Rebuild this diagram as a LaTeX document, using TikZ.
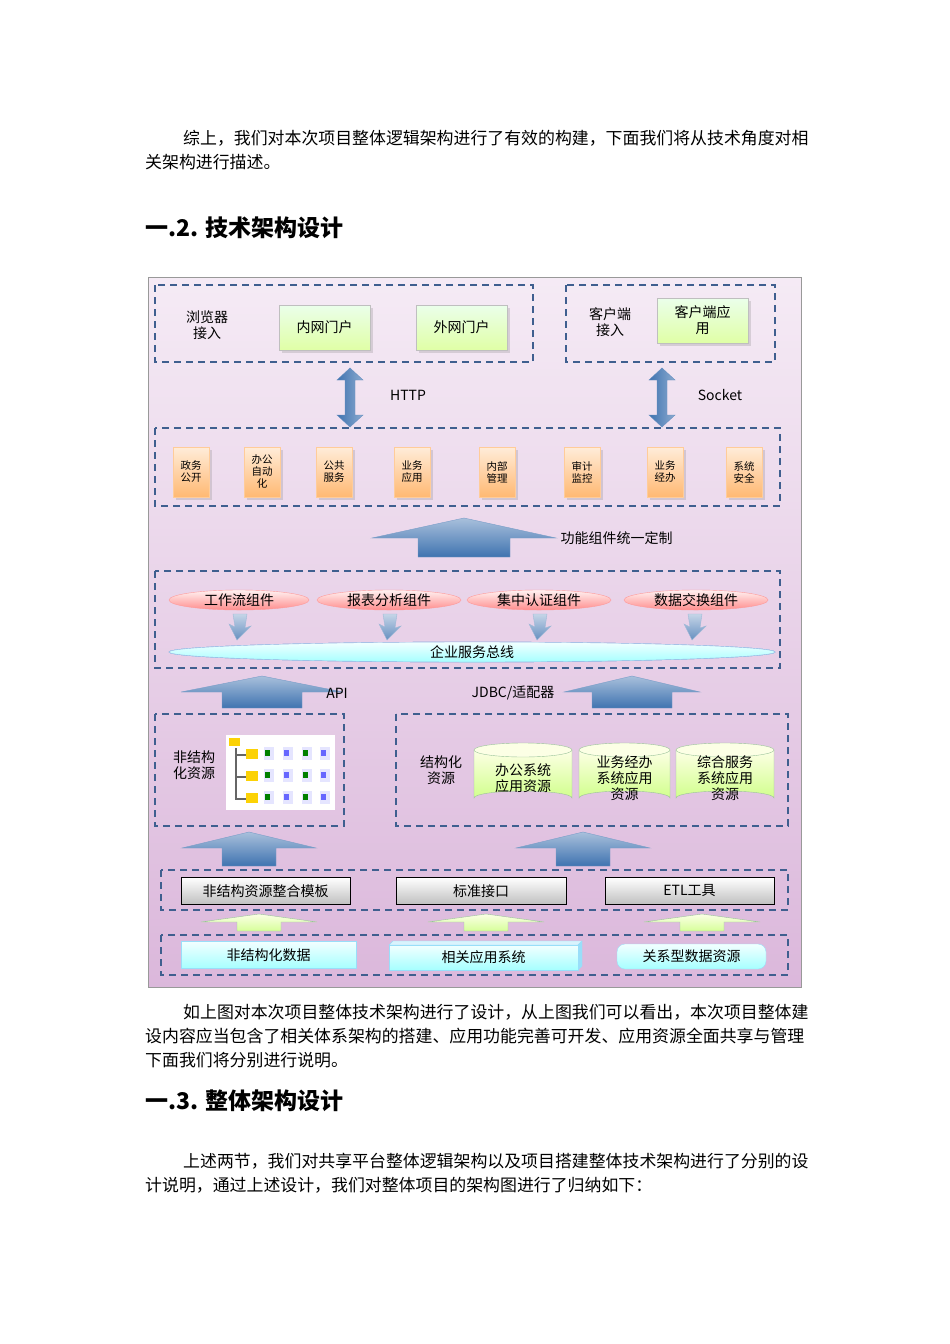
\documentclass[tikz,border=0pt]{standalone}
\usepackage{fontspec}
\setmainfont{Noto Sans CJK SC}
\setsansfont{Noto Sans CJK SC}
\usetikzlibrary{shapes.geometric,shadows}
\definecolor{dashc}{HTML}{3F5F8F}
\definecolor{arrb}{HTML}{3F73B0}
\tikzset{
 dbox/.style={draw=dashc,line width=2.2pt,dash pattern=on 7pt off 5pt},
 gbox/.style={draw=black!25,top color=green!8!white,bottom color=green!35!yellow!35!white,drop shadow={opacity=0.25}},
 obox/.style={draw=orange!40,top color=orange!15,bottom color=orange!55,drop shadow={opacity=0.25}},
 rell/.style={ellipse,draw=red!40,top color=red!5,bottom color=red!45,inner sep=0pt,font=\fontsize{14}{14}\selectfont},
 grey/.style={draw=black,top color=white,bottom color=black!25,font=\fontsize{14}{14}\selectfont},
 cbox/.style={draw=cyan!40,top color=cyan!5,bottom color=cyan!35,font=\fontsize{14}{14}\selectfont},
 lbl/.style={font=\fontsize{14}{16}\selectfont,align=center},
 sm/.style={font=\fontsize{10.5}{12}\selectfont,align=center},
 para/.style={anchor=west,inner sep=0pt,font=\fontsize{16.9}{17}\selectfont},
 head/.style={anchor=west,inner sep=0pt,font=\fontsize{23}{24}\bfseries\selectfont},
}
% cx, ytop, ybot, headhalf, shafthalf, headbottom-y
\newcommand\bigup[6]{\path[top color=arrb!45,bottom color=arrb,draw=arrb!70!white]
 (#1,#2)--(#1+#4,#6)--(#1+#5,#6)--(#1+#5,#3)--(#1-#5,#3)--(#1-#5,#6)--(#1-#4,#6)--cycle;}
\newcommand\greenup[6]{\path[top color=green!15!yellow!10,bottom color=green!40!yellow!40,draw=green!40!black!40]
 (#1,#2)--(#1+#4,#6)--(#1+#5,#6)--(#1+#5,#3)--(#1-#5,#3)--(#1-#5,#6)--(#1-#4,#6)--cycle;}
\newcommand\dblarr[3]{\path[left color=arrb,right color=arrb!60,draw=arrb!80]
 (#1,#2)--(#1+13,#2+12)--(#1+5,#2+12)--(#1+5,#3-12)--(#1+13,#3-12)--(#1,#3)--(#1-13,#3-12)--(#1-5,#3-12)--(#1-5,#2+12)--(#1-13,#2+12)--cycle;}
\newcommand\smdown[2]{\path[top color=arrb!30,bottom color=arrb!80,draw=arrb!50]
 (#1-6,#2)--(#1+8,#2)--(#1+6,#2+14)--(#1+12,#2+12)--(#1-2,#2+26)--(#1-10,#2+10)--(#1-4,#2+13)--cycle;}
\begin{document}
\begin{tikzpicture}[x=1pt,y=-1pt]
\useasboundingbox (0,0) rectangle (950,1344);
\fill[white] (0,0) rectangle (950,1344);
% text
\node[para] (p1) at (183,138) {综上，我们对本次项目整体逻辑架构进行了有效的构建，下面我们将从技术角度对相};
\node[para] (p1b) at (145,162) {关架构进行描述。};
\node[head] (h2) at (145,228) {一.2. 技术架构设计};
\node[para] (p2) at (183,1012) {如上图对本次项目整体技术架构进行了设计，从上图我们可以看出，本次项目整体建};
\node[para] (p2b) at (145,1036) {设内容应当包含了相关体系架构的搭建、应用功能完善可开发、应用资源全面共享与管理};
\node[para] (p2c) at (145,1060) {下面我们将分别进行说明。};
\node[head] (h3) at (145,1101) {一.3. 整体架构设计};
\node[para] (p3) at (183,1161) {上述两节，我们对共享平台整体逻辑架构以及项目搭建整体技术架构进行了分别的设};
\node[para] (p3b) at (145,1185) {计说明，通过上述设计，我们对整体项目的架构图进行了归纳如下：};
% frame
\path[draw=black!40,top color=violet!8,bottom color=violet!28] (148,277) rectangle (801,987);
% top
\draw[dbox] (155,285) rectangle (533,362);
\node[lbl] (bj) at (207,325) {浏览器\\接入};
\node[gbox,lbl,minimum width=91pt,minimum height=45pt] (nw) at (324.5,327.5) {内网门户};
\node[gbox,lbl,minimum width=91pt,minimum height=45pt] (ww) at (461.5,327.5) {外网门户};
\draw[dbox] (566,285) rectangle (775,362);
\node[lbl] (kj) at (610,322) {客户端\\接入};
\node[gbox,lbl,minimum width=91pt,minimum height=45pt] (ky) at (702.5,320.5) {客户端应\\用};
\dblarr{350}{368}{427}
\dblarr{662}{368}{427}
\node[lbl] (http) at (408,395) {HTTP};
\node[lbl] (sock) at (720,395) {Socket};
% modules
\draw[dbox] (155,428) rectangle (780,506);
\foreach \x/\t/\n in {191/政务\\公开/m1,262/办公\\自动\\化/m2,334/公共\\服务/m3,412/业务\\应用/m4,497/内部\\管理/m5,582/审计\\监控/m6,665/业务\\经办/m7,744/系统\\安全/m8}
  \node[obox,sm,minimum width=36pt,minimum height=50pt] (\n) at (\x,472) {\t};
\bigup{464}{518}{557}{92}{46}{538}
\node[lbl,anchor=west] (gn) at (557,538) {功能组件统一定制};
% components
\draw[dbox] (155,571) rectangle (780,668);
\node[rell,minimum width=140pt,minimum height=20pt] (c1) at (239,600) {工作流组件};
\node[rell,minimum width=144pt,minimum height=20pt] (c2) at (389,600) {报表分析组件};
\node[rell,minimum width=144pt,minimum height=20pt] (c3) at (539,600) {集中认证组件};
\node[rell,minimum width=144pt,minimum height=20pt] (c4) at (696,600) {数据交换组件};
\foreach \x in {239,389,539,694} \smdown{\x}{614}
\node[ellipse,draw=cyan!50!blue!40,top color=cyan!5,bottom color=cyan!35,minimum width=606pt,minimum height=20pt,inner sep=0pt,font=\fontsize{14}{14}\selectfont] (bus) at (472,652) {企业服务总线};
\bigup{262}{676}{708}{81}{40}{692}
\bigup{632}{676}{708}{68}{40}{692}
\node[lbl] (api) at (337,693) {API};
\node[lbl] (jdbc) at (513,693) {JDBC/适配器};
% resources
\draw[dbox] (155,714) rectangle (344,826);
\node[lbl] (fj) at (194,765) {非结构\\化资源};
\fill[white] (226,735) rectangle (335,810);
\draw[black!60,line width=1.2pt] (236,748) -- (236,800);
\foreach \y in {755,777,799}{
 \draw[black!60,line width=1.2pt] (236,\y) -- (246,\y);
 \fill[yellow!70!orange] (246,\y-6) rectangle (258,\y+4);
 \foreach \x/\c in {264/green!50!black,283/blue!60,302/green!50!black,320/blue!60}{
  \fill[blue!10] (\x,\y-8) rectangle (\x+10,\y+5);
  \fill[\c] (\x+1,\y-5) rectangle (\x+6,\y+1);}
}
\fill[yellow!70!orange] (229,738) rectangle (240,746);
\draw[dbox] (396,714) rectangle (788,826);
\node[lbl] (jj) at (441,770) {结构化\\资源};
\foreach \cx/\w/\t/\n in {523/98/办公系统\\应用资源/d1,624.5/91/业务经办\\系统应用\\资源/d2,725/98/综合服务\\系统应用\\资源/d3}{
 \path[draw=green!40!black!40,top color=green!8!yellow!10,bottom color=green!40!yellow!45]
   (\cx-\w/2,750) -- (\cx-\w/2,798) arc[start angle=180,end angle=360,x radius=\w/2,y radius=7] -- (\cx+\w/2,750);
 \path[draw=green!40!black!40,fill=green!10!yellow!10] (\cx,750) ellipse[x radius=\w/2,y radius=7];
 \node[lbl] (\n) at (\cx,778) {\t};
}
\bigup{249}{832}{866}{67}{27}{848}
\bigup{583}{832}{866}{67}{27}{848}
% tools
\draw[dbox] (161,870) rectangle (788,910);
\node[grey,minimum width=169pt,minimum height=27pt] (t1) at (265.5,891) {非结构资源整合模板};
\node[grey,minimum width=170pt,minimum height=27pt] (t2) at (481,891) {标准接口};
\node[grey,minimum width=169pt,minimum height=27pt] (t3) at (689.5,891) {ETL工具};
\greenup{259}{914}{931}{58}{22}{922}
\greenup{486}{914}{931}{58}{22}{922}
\greenup{702}{914}{931}{58}{22}{922}
% sources
\draw[dbox] (161,935) rectangle (788,975);
\node[cbox,minimum width=175pt,minimum height=27pt] (s1) at (268.5,955) {非结构化数据};
\path[draw=cyan!40,fill=cyan!15] (389,945) -- (393,941) -- (582,941) -- (578,945) -- cycle;
\path[draw=cyan!40,fill=cyan!40] (578,945) -- (582,941) -- (582,966) -- (578,970) -- cycle;
\node[cbox,minimum width=189pt,minimum height=25pt] (s2) at (483.5,957.5) {相关应用系统};
\node[cbox,rounded corners=8pt,minimum width=149pt,minimum height=25pt] (s3) at (691.5,956.5) {关系型数据资源};
\end{tikzpicture}
\end{document}
